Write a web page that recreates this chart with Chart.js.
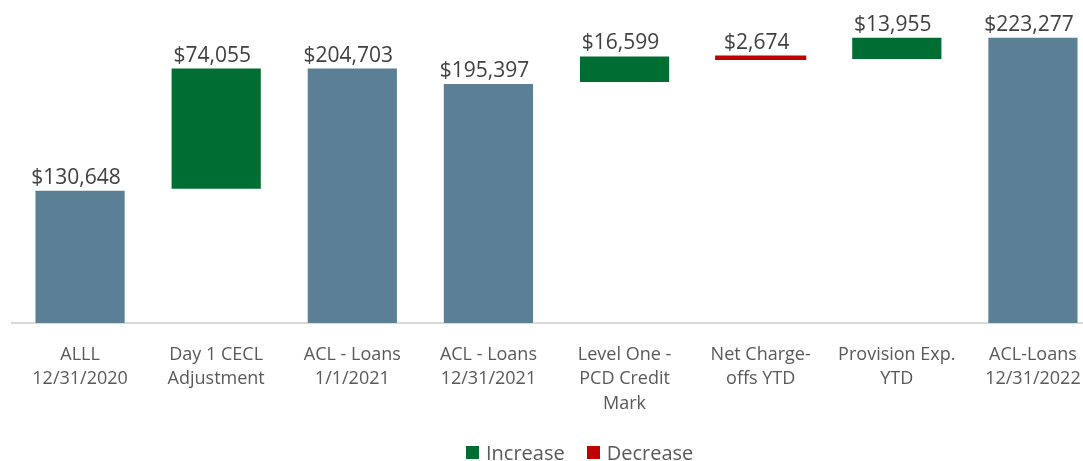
<!DOCTYPE html>
<html>
<head>
<meta charset="utf-8">
<title>ACL waterfall</title>
<script src="https://cdn.jsdelivr.net/npm/chart.js@4.4.0/dist/chart.umd.min.js"></script>
<style>
  html, body { margin: 0; padding: 0; background: #fff; }
  #wrap { position: relative; width: 1083px; height: 461px; overflow: hidden; }
  /* plot runs a little past the right edge, like the original crop */
  #box { position: absolute; left: 0; top: 0; width: 1101px; height: 461px; }
  #legend { position: absolute; left: 466px; top: 439px; display: flex; align-items: center;
            font-family: "Open Sans", sans-serif; font-size: 20px; color: #595959; }
  #legend span.sw { display: inline-block; width: 13px; height: 13px; margin-right: 7px; }
  #legend span.item { display: flex; align-items: center; margin-right: 22px; }
</style>
</head>
<body>
<div id="wrap">
  <div id="box"><canvas id="chart"></canvas></div>
  <div id="legend"></div>
</div>
<script>
"use strict";

// Categories (x axis), one array per line of label
const categories = [
  ["ALLL", "12/31/2020"],
  ["Day 1 CECL", "Adjustment"],
  ["ACL - Loans", "1/1/2021"],
  ["ACL - Loans", "12/31/2021"],
  ["Level One -", "PCD Credit", "Mark"],
  ["Net Charge-", "offs YTD"],
  ["Provision Exp.", "YTD"],
  ["ACL-Loans", "12/31/2022"]
];

// Amounts ($ thousands) and what kind of step each one is
const amounts = [130648, 74055, 204703, 195397, 16599, -2674, 13955, 223277];
const kinds = ["total", "increase", "total", "total", "increase", "decrease", "increase", "total"];

// Legend entries
const legendNames = ["Increase", "Decrease"];

const COLORS = {
  total: "#5b7f95",
  increase: "#006d33",
  decrease: "#c00000"
};


// Build floating [from, to] ranges from the running total
let _running = 0;
let _totalData = [];
let _incData = [];
let _decData = [];

amounts.forEach(function(_v, _i) {
  let _k = kinds[_i];
  if (_k === "total") {
    _running = _v;
    _totalData.push([0, _v]);
    _incData.push(null);
    _decData.push(null);
  } else {
    let _from = _running;
    _running = _running + _v;
    _totalData.push(null);
    _incData.push(_k === "increase" ? [_from, _running] : null);
    _decData.push(_k === "decrease" ? [_from, _running] : null);
  }
});


// Draws the "$xx,xxx" labels above each bar
const barLabels = {
  id: "barLabels",
  afterDatasetsDraw(chart) {
    let _ctx = chart.ctx;
    _ctx.save();
    _ctx.font = '21px "Open Sans"';
    _ctx.fillStyle = "#404040";
    _ctx.textAlign = "center";
    _ctx.textBaseline = "alphabetic";
    chart.data.datasets.forEach(function(_ds, _di) {
      let _meta = chart.getDatasetMeta(_di);
      _meta.data.forEach(function(_el, _i) {
        if (_ds.data[_i] === null) return;
        let _top = Math.min(_el.y, _el.base);
        let _txt = "$" + Math.abs(amounts[_i]).toLocaleString("en-US");
        _ctx.fillText(_txt, _el.x - 4, _top - 6);
      });
    });
    _ctx.restore();
  }
};


function _dataset(_label, _data, _color, _border) {
  return {
    label: _label,
    data: _data,
    backgroundColor: _color,
    borderColor: "rgba(255,255,255,0.45)",
    borderWidth: _border,
    borderSkipped: false,
    grouped: false,
    categoryPercentage: 1.0,
    barPercentage: 0.67
  };
}

new Chart(document.getElementById("chart"), {
  type: "bar",
  data: {
    labels: categories,
    datasets: [
      _dataset("Total", _totalData, COLORS.total, 1),
      _dataset(legendNames[0], _incData, COLORS.increase, 1),
      _dataset(legendNames[1], _decData, COLORS.decrease, 0)
    ]
  },
  options: {
    responsive: true,
    maintainAspectRatio: false,
    animation: false,
    layout: { padding: { top: 34, left: 12, right: 0, bottom: 0 } },
    plugins: {
      legend: { display: false },
      tooltip: { enabled: false }
    },
    scales: {
      x: {
        grid: { display: false },
        border: { display: true, color: "#d9d9d9", width: 2 },
        ticks: {
          color: "#595959",
          font: { family: "Open Sans", size: 18, lineHeight: 1.38 },
          padding: 11,
          maxRotation: 0,
          autoSkip: false
        },
        afterFit: function(_scale) { _scale.height = 138; }
      },
      y: {
        display: false,
        min: 50000,
        max: 225000
      }
    }
  },
  plugins: [barLabels]
});


// Legend (only Increase / Decrease, like the original)
let _legend = document.getElementById("legend");
[["increase", legendNames[0]], ["decrease", legendNames[1]]].forEach(function(_it) {
  let _item = document.createElement("span");
  _item.className = "item";
  let _sw = document.createElement("span");
  _sw.className = "sw";
  _sw.style.background = COLORS[_it[0]];
  _item.appendChild(_sw);
  _item.appendChild(document.createTextNode(_it[1]));
  _legend.appendChild(_item);
});
</script>
</body>
</html>
